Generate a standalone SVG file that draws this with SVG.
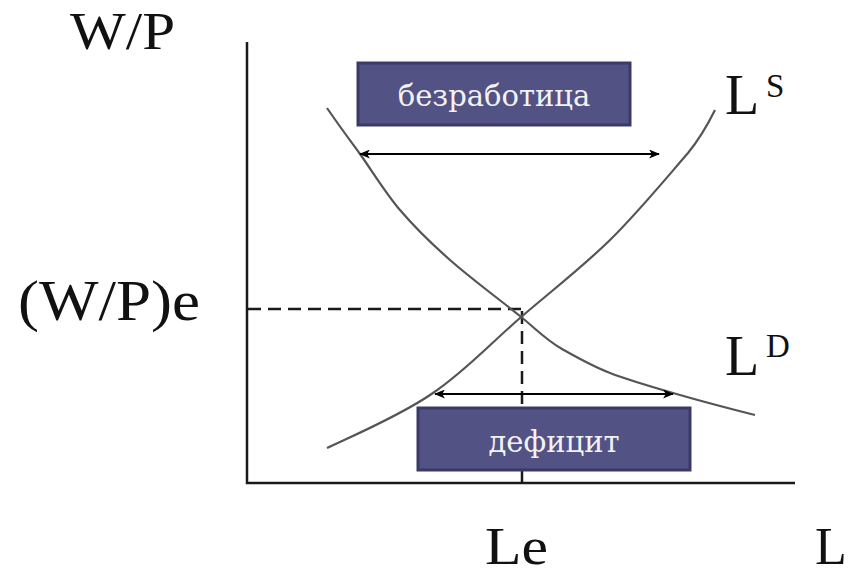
<svg xmlns="http://www.w3.org/2000/svg" width="850" height="574" viewBox="0 0 850 574">
<style>
.ax{stroke:#1a1a1a;stroke-width:2.5;fill:none}
.dash{stroke:#1a1a1a;stroke-width:2.5;fill:none;stroke-dasharray:13 7}
.curve{stroke:#555;stroke-width:2.2;fill:none}
.arr{stroke:#000;stroke-width:1.8;fill:none;marker-start:url(#ah);marker-end:url(#ah)}
.box{fill:#525285;stroke:#3b3a66;stroke-width:3}
.bt{font-family:"DejaVu Serif","Liberation Serif",serif;font-size:29px;fill:#f2f2f2;text-anchor:middle}
.lbl{font-family:"Liberation Serif","Times New Roman",serif;font-size:56px;fill:#111}
.edge{font-family:"Liberation Serif","Times New Roman",serif;font-size:52px;fill:#111}
.sup{font-family:"Liberation Serif","Times New Roman",serif;font-size:33px;fill:#111}
</style>
<defs>
<marker id="ah" viewBox="0 0 12 10" refX="11" refY="5" markerWidth="12" markerHeight="9" markerUnits="userSpaceOnUse" orient="auto-start-reverse">
<path d="M0,0 L12,5 L0,10 L3,5 Z" fill="#000"/>
</marker>
</defs>
<rect width="850" height="574" fill="#fff"/>
<g id="axes">
<path class="ax" d="M247,42 V483 H795"/>
</g>
<g id="guides">
<path class="dash" d="M248,309 H522"/>
<path class="dash" d="M522,311 V483"/>
</g>
<g id="curve-LD">
<path class="curve" d="M327,108 C340,127 352,143 360,154 C372.2,171 385,192.3 400,210 C415,227.7 430,242.3 450,260 C470,277.7 500,300 520,316 C536,329 546,340 562,349 C578,358 592,366 610,373 C628.8,380.2 648.8,386 673,393 C697.2,400 735,410 755,415"/>
</g>
<g id="curve-LS">
<path class="curve" d="M327,448 C350,437 400,416 433,393 C465.2,371.3 490.5,343.5 520,318 C549.5,292.5 582,267.5 610,240 C638,212.5 668,176 688,153 C702,136 710,120 715,110"/>
</g>
<g id="connectors">
<path class="arr" d="M360,154 H659"/>
<path class="arr" d="M435,394 H673"/>
</g>
<g id="box-unemployment">
<rect class="box" x="358" y="63" width="272" height="62"/>
<text class="bt" x="494" y="106">безработица</text>
</g>
<g id="box-deficit">
<rect class="box" x="418" y="408" width="272" height="62"/>
<text class="bt" x="554" y="452">дефицит</text>
</g>
<g id="labels">
<text class="edge" x="70" y="49" textLength="105" lengthAdjust="spacingAndGlyphs">W/P</text>
<text class="lbl" x="18" y="320" textLength="182" lengthAdjust="spacingAndGlyphs">(W/P)e</text>
<text class="edge" x="485" y="564" textLength="63" lengthAdjust="spacingAndGlyphs">Le</text>
<text class="edge" x="815" y="564">L</text>
<text class="lbl" x="725" y="114">L</text>
<text class="sup" x="766" y="97">S</text>
<text class="lbl" x="725" y="375">L</text>
<text class="sup" x="766" y="357">D</text>
</g>
</svg>
